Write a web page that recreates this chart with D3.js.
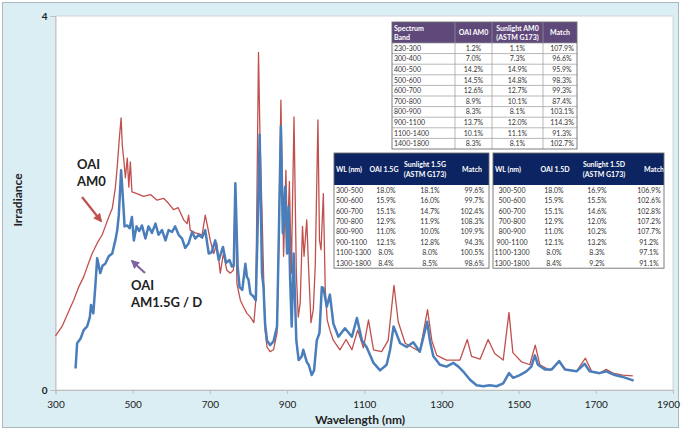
<!DOCTYPE html>
<html>
<head>
<meta charset="utf-8">
<script src="https://cdn.jsdelivr.net/npm/d3@7"></script>
<style>
body { margin: 0; background: #fff; }
svg { display: block; font-family: Lato, "Open Sans", sans-serif; }
</style>
</head>
<body>
<div id="chart"></div>
<script>
// spectra (nm, irradiance)
const am0Wl = [300,317,334,347,360,373,386,395,408,421,429,438,447,455,460,465,470,473,477,481,486,490,494,498,511,528,546,563,580,592,606,618,632,641,645,649,662,680,688,694,701,710,718,727,735,744,753,761,766,770,779,787,796,805,814,819,826,830,835,839,843,848,856,865,874,878,884,891,897,901,906,911,918,924,929,934,940,944,951,956,962,968,973,980,984,988,994,999,1004,1011,1020,1037,1053,1068,1083,1098,1111,1124,1145,1162,1177,1188,1206,1223,1244,1264,1275,1288,1313,1348,1367,1378,1400,1421,1438,1460,1475,1485,1508,1529,1543,1555,1581,1605,1622,1650,1673,1689,1710,1727,1744,1770,1796];
const am0Irr = [0.58,0.68,0.84,0.96,1.10,1.21,1.36,1.46,1.57,1.66,1.75,1.85,1.94,2.16,2.39,2.67,2.91,2.62,2.46,2.27,2.48,2.17,2.44,2.12,2.10,2.07,2.09,2.03,2.05,2.00,1.93,1.95,1.82,1.78,1.87,1.71,1.68,1.66,1.87,1.75,1.60,1.46,1.57,1.25,1.46,1.28,1.25,1.28,2.21,1.14,0.96,0.89,0.82,0.78,0.72,0.96,3.61,2.67,1.92,1.25,0.64,0.46,0.41,0.43,0.61,1.50,3.10,1.43,2.35,1.60,2.23,1.25,2.92,1.25,0.78,0.93,1.75,1.43,1.82,1.28,0.72,0.86,1.32,2.89,1.60,1.50,2.10,1.07,0.75,0.64,0.53,0.43,0.54,0.43,0.64,0.45,0.75,0.43,0.41,0.53,1.12,0.73,0.50,0.46,0.41,0.86,0.53,0.37,0.32,0.32,0.54,0.36,0.33,0.54,0.39,0.32,0.83,0.40,0.30,0.27,0.48,0.27,0.21,0.30,0.22,0.20,0.34,0.20,0.18,0.22,0.18,0.16,0.15];

const am15Wl = [352,356,365,373,382,389,392,398,403,408,416,422,429,438,447,455,460,464,470,475,479,486,492,498,503,510,517,524,533,541,550,559,567,576,585,593,602,610,619,628,636,645,654,662,671,680,688,697,704,714,723,734,742,751,757,762,766,772,777,784,792,796,800,805,813,819,823,829,835,839,843,848,856,865,874,878,884,889,895,900,904,908,912,917,924,930,938,942,951,956,964,970,977,984,990,994,1003,1011,1020,1033,1050,1068,1081,1094,1106,1124,1141,1158,1167,1176,1193,1210,1227,1244,1263,1270,1279,1296,1313,1331,1344,1356,1374,1391,1408,1425,1443,1460,1475,1486,1503,1520,1533,1542,1550,1568,1586,1605,1620,1650,1671,1684,1710,1727,1749,1770,1798];
const am15Irr = [0.23,0.50,0.55,0.64,0.68,0.78,0.91,0.82,1.10,1.41,1.25,1.33,1.35,1.43,1.46,1.60,1.71,1.87,2.35,2.03,1.75,1.76,1.73,1.85,1.60,1.75,1.70,1.76,1.62,1.75,1.68,1.78,1.66,1.71,1.60,1.71,1.69,1.75,1.66,1.62,1.52,1.57,1.69,1.62,1.66,1.63,1.71,1.46,1.47,1.60,1.39,1.53,1.36,1.39,1.32,1.33,2.21,1.32,1.10,1.07,1.35,1.21,1.18,1.03,1.00,0.96,1.60,2.73,1.25,1.10,0.71,0.53,0.48,0.52,0.68,1.50,2.82,1.68,2.17,1.46,1.96,1.18,0.68,1.46,0.53,0.32,0.36,0.43,0.30,0.27,0.16,0.21,0.53,0.61,1.10,1.09,0.89,1.02,0.71,0.57,0.66,0.57,0.77,0.53,0.46,0.29,0.21,0.27,0.43,0.68,0.50,0.46,0.51,0.41,0.73,0.53,0.36,0.27,0.25,0.29,0.25,0.20,0.11,0.05,0.04,0.05,0.04,0.07,0.18,0.13,0.16,0.20,0.25,0.37,0.27,0.22,0.22,0.31,0.22,0.20,0.28,0.20,0.18,0.20,0.16,0.14,0.10];

const xTicks = [300,500,700,900,1100,1300,1500,1700,1900];
const yTicks = [0,4];

// table AM0
const bandsAM0 = ["230-300","300-400","400-500","500-600","600-700","700-800","800-900","900-1100","1100-1400","1400-1800"];
const oaiAM0 = ["1.2%","7.0%","14.2%","14.5%","12.6%","8.9%","8.3%","13.7%","10.1%","8.3%"];
const sunAM0 = ["1.1%","7.3%","14.9%","14.8%","12.7%","10.1%","8.1%","12.0%","11.1%","8.1%"];
const matchAM0 = ["107.9%","96.6%","95.9%","98.3%","99.3%","87.4%","103.1%","114.3%","91.3%","102.7%"];

// tables AM1.5G / AM1.5D
const bands15 = ["300-500","500-600","600-700","700-800","800-900","900-1100","1100-1300","1300-1800"];
const oai15G = ["18.0%","15.9%","15.1%","12.9%","11.0%","12.1%","8.0%","8.4%"];
const sun15G = ["18.1%","16.0%","14.7%","11.9%","10.0%","12.8%","8.0%","8.5%"];
const match15G = ["99.6%","99.7%","102.4%","108.3%","109.9%","94.3%","100.5%","98.6%"];
const oai15D = ["18.0%","15.9%","15.1%","12.9%","11.0%","12.1%","8.0%","8.4%"];
const sun15D = ["16.9%","15.5%","14.6%","12.0%","10.2%","13.2%","8.3%","9.2%"];
const match15D = ["106.9%","102.6%","102.8%","107.2%","107.7%","91.2%","97.1%","91.1%"];

const W = 681, H = 430;
const svg = d3.select("#chart").append("svg").attr("width", W).attr("height", H);

svg.append("rect").attr("x", 2.5).attr("y", 2.5).attr("width", W - 5).attr("height", H - 5)
	.attr("fill", "#dbeef4").attr("stroke", "#a9b9bf");

const x = d3.scaleLinear().domain([300, 1900]).range([55.5, 673]);
const y = d3.scaleLinear().domain([0, 4]).range([390, 16]);

svg.append("rect").attr("x", 55.5).attr("y", 16).attr("width", 673 - 55.5).attr("height", 374)
	.attr("fill", "#fff").attr("stroke", "#d4d4d4");

// axes
const xAxis = svg.append("g").attr("transform", "translate(0,390)")
	.call(d3.axisBottom(x).tickValues(xTicks).tickSize(4).tickFormat(d3.format("d")));
xAxis.select(".domain").attr("stroke", "#bfbfbf");
xAxis.selectAll(".tick line").attr("stroke", "#bfbfbf");
xAxis.selectAll("text").attr("font-size", 10).attr("fill", "#222").attr("dy", "1.05em")
	.attr("font-family", "Lato, sans-serif");
// last label sits at the right edge, nudge it inside
xAxis.selectAll(".tick text").filter(d => d === 1900).attr("x", -5);

const yAxis = svg.append("g").attr("transform", "translate(55.5,0)")
	.call(d3.axisLeft(y).tickValues(yTicks).tickSize(5).tickFormat(d3.format("d")));
yAxis.select(".domain").attr("stroke", "#bfbfbf");
yAxis.selectAll(".tick line").attr("stroke", "#bfbfbf");
yAxis.selectAll("text").attr("font-size", 10).attr("font-weight", "bold").attr("fill", "#222")
	.attr("font-family", "Lato, sans-serif");

svg.append("text").attr("x", 360).attr("y", 424).attr("text-anchor", "middle")
	.attr("font-size", 12).attr("font-weight", "bold").attr("fill", "#222").text("Wavelength (nm)");
svg.append("text").attr("transform", "translate(22,200) rotate(-90)").attr("text-anchor", "middle")
	.attr("font-size", 12).attr("font-weight", "bold").attr("fill", "#222").text("Irradiance");

// lines
const line = d3.line().x(d => x(d[0])).y(d => y(d[1]));
svg.append("path").datum(d3.zip(am0Wl, am0Irr)).attr("d", line)
	.attr("fill", "none").attr("stroke", "#c0504d").attr("stroke-width", 1.3).attr("stroke-linejoin", "round");
svg.append("path").datum(d3.zip(am15Wl, am15Irr)).attr("d", line)
	.attr("fill", "none").attr("stroke", "#4a7ebb").attr("stroke-width", 2.5).attr("stroke-linejoin", "round");

// annotations
const defs = svg.append("defs");
function marker(id, col) {
	defs.append("marker").attr("id", id).attr("viewBox", "0 0 10 10").attr("refX", 8).attr("refY", 5)
		.attr("markerWidth", 4).attr("markerHeight", 4).attr("orient", "auto")
		.append("path").attr("d", "M0,0L10,5L0,10z").attr("fill", col);
}
marker("ar", "#c0504d");
marker("ap", "#8064a2");

svg.append("line").attr("x1", 82).attr("y1", 197).attr("x2", 101).attr("y2", 221)
	.attr("stroke", "#c0504d").attr("stroke-width", 2.2).attr("marker-end", "url(#ar)");
svg.append("line").attr("x1", 145).attr("y1", 273).attr("x2", 132).attr("y2", 261)
	.attr("stroke", "#8064a2").attr("stroke-width", 2.2).attr("marker-end", "url(#ap)");

function label(lines, lx, ly) {
	const t = svg.append("text").attr("x", lx).attr("y", ly).attr("font-size", 13)
		.attr("font-weight", "bold").attr("fill", "#222");
	lines.forEach((s, i) => t.append("tspan").attr("x", lx).attr("dy", i ? 17 : 0).text(s));
}
label(["OAI", "AM0"], 77, 169);
label(["OAI", "AM1.5G / D"], 131, 290);

// tables
function table(o) {
	const g = svg.append("g");
	const width = o.cols[o.cols.length - 1] - o.cols[0];
	const rowsH = o.rowH * o.data[0].length;
	g.append("rect").attr("x", o.cols[0]).attr("y", o.top).attr("width", width)
		.attr("height", o.headH + rowsH).attr("fill", "#fff");
	g.append("rect").attr("x", o.cols[0]).attr("y", o.top).attr("width", width)
		.attr("height", o.headH).attr("fill", o.headFill);
	o.heads.forEach((h, i) => {
		const t = g.append("text").attr("x", o.headX[i]).attr("text-anchor", o.headAnchor[i])
			.attr("y", o.top + o.headH / 2 - (h.length - 1) * 4.5 + 2.5)
			.attr("font-size", 7).attr("font-weight", "bold").attr("fill", "#fff");
		h.forEach((s, k) => t.append("tspan").attr("x", o.headX[i]).attr("dy", k ? 9.5 : 0).text(s));
	});
	o.data.forEach((col, i) => {
		g.selectAll(null).data(col).enter().append("text")
			.attr("x", o.bodyX[i]).attr("text-anchor", o.bodyAnchor[i])
			.attr("y", (d, r) => o.top + o.headH + o.rowH * (r + 0.5) + 2.5)
			.attr("font-size", 7).attr("fill", "#333").text(d => d);
	});
	if (o.grid) {
		o.data[0].forEach((d, r) => {
			g.append("line").attr("x1", o.cols[0]).attr("x2", o.cols[o.cols.length - 1])
				.attr("y1", o.top + o.headH + o.rowH * r).attr("y2", o.top + o.headH + o.rowH * r)
				.attr("stroke", "#9a9a9a").attr("stroke-width", 0.7);
		});
		o.cols.slice(1, -1).forEach(c => {
			g.append("line").attr("x1", c).attr("x2", c).attr("y1", o.top).attr("y2", o.top + o.headH + rowsH)
				.attr("stroke", "#9a9a9a").attr("stroke-width", 0.7);
		});
	}
	g.append("rect").attr("x", o.cols[0]).attr("y", o.top).attr("width", width)
		.attr("height", o.headH + rowsH).attr("fill", "none").attr("stroke", "#6f6f6f").attr("stroke-width", 0.9);
}

table({
	cols: [392, 455, 492, 543, 577], top: 22, headH: 21, rowH: 10.6,
	headFill: "#5f497a",
	heads: [["Spectrum", "Band"], ["OAI AM0"], ["Sunlight AM0", "(ASTM G173)"], ["Match"]],
	headX: [394, 473.5, 517.5, 560], headAnchor: ["start", "middle", "middle", "middle"],
	data: [bandsAM0, oaiAM0, sunAM0, matchAM0],
	bodyX: [394, 473.5, 517.5, 562], bodyAnchor: ["start", "middle", "middle", "middle"],
	grid: true
});

table({
	cols: [334, 489], top: 153, headH: 32, rowH: 10.4,
	headFill: "#0c2461",
	heads: [["WL (nm)"], ["OAI 1.5G"], ["Sunlight 1.5G", "(ASTM G173)"], ["Match"]],
	headX: [336, 384, 425, 472], headAnchor: ["start", "middle", "middle", "middle"],
	data: [bands15, oai15G, sun15G, match15G],
	bodyX: [336, 386, 430, 484], bodyAnchor: ["start", "middle", "middle", "end"],
	grid: false
});

table({
	cols: [493, 664], top: 153, headH: 32, rowH: 10.4,
	headFill: "#0c2461",
	heads: [["WL (nm)"], ["OAI 1.5D"], ["Sunlight 1.5D", "(ASTM G173)"], ["Match"]],
	headX: [495, 555, 604, 654], headAnchor: ["start", "middle", "middle", "middle"],
	data: [bands15, oai15D, sun15D, match15D],
	bodyX: [512, 554, 597, 649], bodyAnchor: ["middle", "middle", "middle", "middle"],
	grid: false
});
</script>
</body>
</html>
